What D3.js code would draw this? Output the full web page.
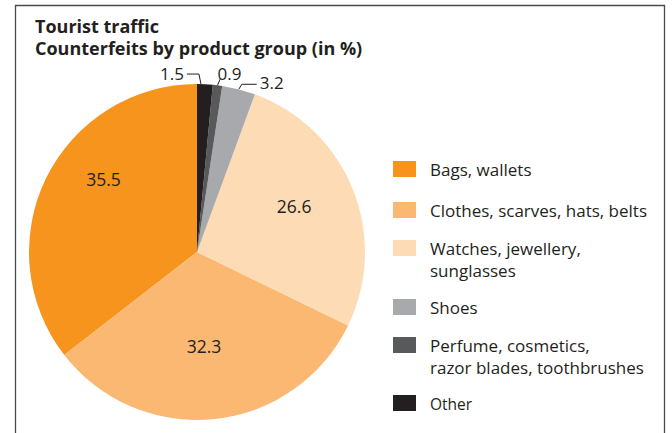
<!DOCTYPE html>
<html>
<head>
<meta charset="utf-8">
<script src="https://cdn.jsdelivr.net/npm/d3@7"></script>
<style>
  body { margin: 0; background: #fff; }
  svg text { font-family: "Open Sans", "Noto Sans", sans-serif; fill: #231f20; }
</style>
</head>
<body>
<script>
'use strict';

// legend order (the pie runs the other way round, clockwise from 12 o'clock)
const categories = [
  "Bags, wallets",
  "Clothes, scarves, hats, belts",
  "Watches, jewellery, sunglasses",
  "Shoes",
  "Perfume, cosmetics, razor blades, toothbrushes",
  "Other"
];
const values = [35.5, 32.3, 26.6, 3.2, 0.9, 1.5];
const legendLines = [
  ["Bags, wallets"],
  ["Clothes, scarves, hats, belts"],
  ["Watches, jewellery,", "sunglasses"],
  ["Shoes"],
  ["Perfume, cosmetics,", "razor blades, toothbrushes"],
  ["Other"]
];
const colors = ["#f7941d", "#fbb872", "#fddbb4", "#a7a9ac", "#58595b", "#231f20"];
const titleLines = ["Tourist traffic", "Counterfeits by product group (in %)"];

const width = 672, height = 433;
const cx = 197, cy = 252, radius = 168;

const svg = d3.select('body')
  .append('svg')
  .attr('width', width)
  .attr('height', height);

// frame (open at the bottom)
svg.append('path')
  .attr('d', 'M15.5,433 V5.5 H664.5 V433')
  .attr('fill', 'none')
  .attr('stroke', '#4a4a4a')
  .attr('stroke-width', 1.3);

// title
svg.append('g').selectAll('text')
  .data(titleLines)
  .enter()
  .append('text')
  .attr('x', 35)
  .attr('y', (d, i) => 33 + i * 22)
  .style('font-size', '18px')
  .style('font-weight', 'bold')
  .text(d => d);

// pie
const rows = categories.map((c, i) => ({ name: c, value: values[i], color: colors[i] }));
const pie = d3.pie()
  .sort(null)
  .value(d => d.value)
  .startAngle(2 * Math.PI)
  .endAngle(0);
const arcs = pie(rows);
const arc = d3.arc().innerRadius(0).outerRadius(radius);

const g = svg.append('g').attr('transform', `translate(${cx},${cy})`);
g.selectAll('path')
  .data(arcs)
  .enter()
  .append('path')
  .attr('d', arc)
  .attr('fill', d => d.data.color);

// labels inside the three big slices
const labelRadius = { "Bags, wallets": 118, "Clothes, scarves, hats, belts": 95, "Watches, jewellery, sunglasses": 107 };
const labelTurn = { "Bags, wallets": 0.20, "Clothes, scarves, hats, belts": 0.03, "Watches, jewellery, sunglasses": -0.05 };
const polar = (a, r) => [r * Math.sin(a), -r * Math.cos(a)];
g.selectAll('text.inner')
  .data(arcs.filter(d => labelRadius[d.data.name]))
  .enter()
  .append('text')
  .attr('class', 'inner')
  .attr('text-anchor', 'middle')
  .attr('dy', '0.36em')
  .style('font-size', '17.5px')
  .each(function (d) {
    const a = (d.startAngle + d.endAngle) / 2 + labelTurn[d.data.name];
    const p = polar(a, labelRadius[d.data.name]);
    d3.select(this).attr('x', p[0]).attr('y', p[1]);
  })
  .text(d => d.data.value.toFixed(1));

// small slices: labels outside with leader lines
const fmt = d3.format('.1f');
const small = arcs.filter(d => !labelRadius[d.data.name]);
small.forEach(d => {
  const name = d.data.name;
  const lo = Math.min(d.startAngle, d.endAngle), hi = Math.max(d.startAngle, d.endAngle);
  let edge, pts, tx, ty, anchor;
  if (name === "Other") {
    edge = polar(lo + (hi - lo) * 0.25, radius);
    pts = [[edge[0] - 14, edge[1] - 10], [edge[0] - 2, edge[1] - 10], edge];
    tx = edge[0] - 17; ty = edge[1] - 4; anchor = 'end';
  } else if (name.startsWith("Perfume")) {
    edge = polar((lo + hi) / 2, radius);
    pts = [[edge[0] + 3, edge[1] - 7], edge];
    tx = edge[0] + 0; ty = edge[1] - 5; anchor = 'start';
  } else {
    edge = polar((lo + hi) / 2, radius);
    pts = [[edge[0] + 18, edge[1] - 5], [edge[0] + 3, edge[1] - 5], edge];
    tx = edge[0] + 21; ty = edge[1] + 0; anchor = 'start';
  }
  g.append('path')
    .attr('d', d3.line()(pts))
    .attr('fill', 'none')
    .attr('stroke', '#231f20')
    .attr('stroke-width', 1);
  g.append('text')
    .attr('x', tx)
    .attr('y', ty)
    .attr('text-anchor', anchor)
    .style('font-size', '17px')
    .text(fmt(d.data.value));
});

// legend
const legendTop = [161, 202, 240, 299, 337, 395];
const legend = svg.append('g').selectAll('g')
  .data(rows)
  .enter()
  .append('g')
  .attr('transform', (d, i) => `translate(393,${legendTop[i]})`);
legend.append('rect')
  .attr('width', 23)
  .attr('height', 16)
  .attr('fill', d => d.color);
legend.append('text')
  .attr('x', 37)
  .style('font-size', (d, i) => i === 5 ? '15.5px' : '17px')
  .selectAll('tspan')
  .data((d, i) => legendLines[i])
  .enter()
  .append('tspan')
  .attr('x', 37)
  .attr('y', (d, j) => 15 + j * 22)
  .text(d => d);
</script>
</body>
</html>
